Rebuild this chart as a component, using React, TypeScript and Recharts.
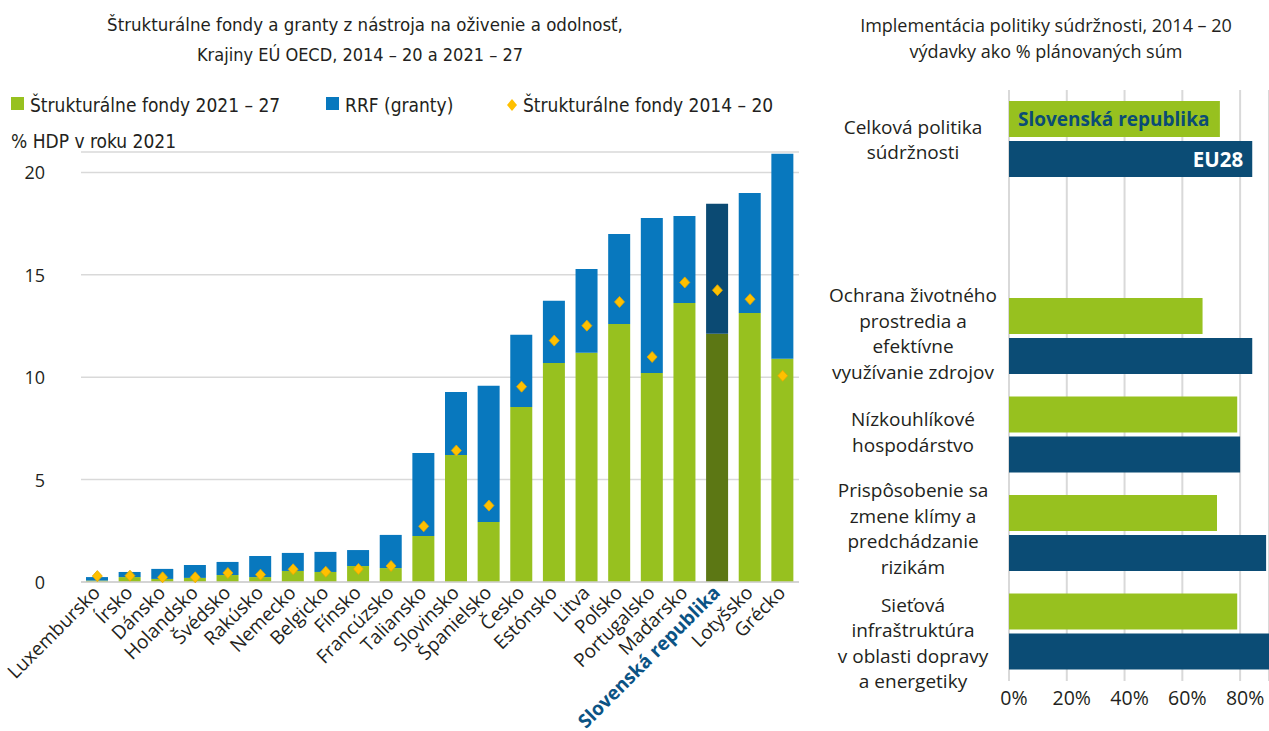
import React from 'react';
import {
  ComposedChart, BarChart, Bar, Line, XAxis, YAxis, CartesianGrid, Cell, LabelList,
} from 'recharts';

// ---------- Left chart data ----------
const countries = [
  'Luxembursko', 'Írsko', 'Dánsko', 'Holandsko', 'Švédsko', 'Rakúsko', 'Nemecko',
  'Belgicko', 'Fínsko', 'Francúzsko', 'Taliansko', 'Slovinsko', 'Španielsko', 'Česko',
  'Estónsko', 'Litva', 'Poľsko', 'Portugalsko', 'Maďarsko', 'Slovenská republika',
  'Lotyšsko', 'Grécko',
];
const structural2127 = [
  0.07, 0.24, 0.15, 0.2, 0.34, 0.24, 0.54, 0.49, 0.78, 0.68, 2.25, 6.2, 2.93, 8.55,
  10.7, 11.19, 12.6, 10.21, 13.63, 12.12, 13.14, 10.9,
];
const rrfGrants = [
  0.17, 0.25, 0.49, 0.63, 0.64, 1.03, 0.88, 0.98, 0.78, 1.62, 4.05, 3.08, 6.65, 3.52,
  3.03, 4.1, 4.4, 7.57, 4.25, 6.35, 5.86, 10.01,
];
const structural1420 = [
  0.29, 0.31, 0.23, 0.23, 0.44, 0.36, 0.62, 0.5, 0.64, 0.78, 2.72, 6.42, 3.73, 9.54,
  11.79, 12.52, 13.68, 10.99, 14.63, 14.25, 13.81, 10.07,
];
const leftTicks = [0, 5, 10, 15, 20];
const highlight = 'Slovenská republika';

// ---------- Right chart data ----------
const policyKeys = ['celkova', 'blank', 'ochrana', 'nizko', 'prisp', 'siet'];
const policyLabels: string[][] = [
  ['Celková politika', 'súdržnosti'],
  [],
  ['Ochrana životného', 'prostredia a', 'efektívne', 'využívanie zdrojov'],
  ['Nízkouhlíkové', 'hospodárstvo'],
  ['Prispôsobenie sa', 'zmene klímy a', 'predchádzanie', 'rizikám'],
  ['Sieťová', 'infraštruktúra', 'v oblasti dopravy', 'a energetiky'],
];
const skSpending = [73, null, 67, 79, 72, 79];
const eu28Spending = [84.2, null, 84.2, 80, 89, 90];
const rightTicks = [0, 20, 40, 60, 80];

const leftData = countries.map((name, i) => ({
  name,
  green: structural2127[i],
  rrf: rrfGrants[i],
  old: structural1420[i],
}));
const rightData = policyKeys.map((key, i) => ({
  key,
  sk: skSpending[i],
  eu: eu28Spending[i],
}));

const GREEN = '#97C11F';
const BLUE = '#0878BE';
const DARK_GREEN = '#5C7714';
const DARK_BLUE = '#0B4A73';
const NAVY = '#0B4C75';
const GOLD = '#FFC000';
const GRID = '#D9D9D9';
const TEXT = '#231F20';

const SANS = "'Open Sans', 'Noto Sans', sans-serif";
const COND = "'Liberation Sans Narrow', 'DejaVu Sans Condensed', 'Roboto Condensed', sans-serif";

// small vertical nudges of the multi-line category labels (style only)
const labelNudge: Record<string, number> = { celkova: 0, ochrana: -3, nizko: -3, prisp: -5, siet: 11 };

const Diamond = (props: any) => {
  const { cx, cy } = props;
  if (cx == null || cy == null) return null;
  return (
    <polygon
      points={`${cx},${cy - 5.5} ${cx + 5},${cy} ${cx},${cy + 5.5} ${cx - 5},${cy}`}
      fill={GOLD}
      stroke="#E3A800"
      strokeWidth={0.8}
    />
  );
};

const XTick = (props: any) => {
  const { x, y, payload } = props;
  const isSk = payload.value === highlight;
  return (
    <g transform={`translate(${x + 4},${y + 12})`}>
      <text
        textAnchor="end"
        transform="rotate(-45)"
        fontSize={19}
        fontFamily={SANS}
        fontWeight={isSk ? 700 : 400}
        fill={isSk ? '#0B5384' : TEXT}
      >
        {payload.value}
      </text>
    </g>
  );
};

const YTickLeft = (props: any) => {
  const { x, y, payload } = props;
  return (
    <text x={x} y={y} textAnchor="end" dominantBaseline="central" fontSize={18} fontFamily={SANS} fill={TEXT}>
      {payload.value}
    </text>
  );
};

const PolicyTick = (props: any) => {
  const { y, payload } = props;
  const lines = policyLabels[policyKeys.indexOf(payload.value)] || [];
  const lh = 25.5;
  const start = y + (labelNudge[payload.value] || 0) - ((lines.length - 1) * lh) / 2;
  return (
    <g>
      {lines.map((l, i) => (
        <text
          key={i}
          x={103}
          y={start + i * lh}
          textAnchor="middle"
          dominantBaseline="central"
          fontSize={19}
          fontFamily={SANS}
          fill={TEXT}
        >
          {l}
        </text>
      ))}
    </g>
  );
};

const PctTick = (props: any) => {
  const { x, y, payload } = props;
  return (
    <text x={x + 5} y={y} textAnchor="middle" dominantBaseline="central" fontSize={19.5} fontFamily={SANS} fill={TEXT}>
      {`${payload.value}%`}
    </text>
  );
};

const SkLabel = (props: any) => {
  const { x, y, height, index } = props;
  if (index !== 0) return null;
  return (
    <text x={x + 9} y={y + height / 2} dominantBaseline="central" fontSize={19} fontWeight={700} fontFamily={SANS} fill={NAVY}>
      Slovenská republika
    </text>
  );
};

const EuLabel = (props: any) => {
  const { x, y, width, height, index } = props;
  if (index !== 0) return null;
  return (
    <text x={x + width - 9} y={y + height / 2} textAnchor="end" dominantBaseline="central" fontSize={20.5} fontWeight={700} fontFamily={SANS} fill="#FFFFFF">
      EU28
    </text>
  );
};

const abs = (s: React.CSSProperties): React.CSSProperties => ({ position: 'absolute', whiteSpace: 'nowrap', ...s });

export default function App() {
  return (
    <div style={{ position: 'absolute', left: 0, top: 0, width: 1269, height: 731, background: '#fff', overflow: 'hidden', color: TEXT }}>
      {/* Left titles */}
      <div style={abs({ left: 0, top: 10, width: 730, textAlign: 'center', fontFamily: COND, fontSize: 18.5, lineHeight: '30px' })}>
        Štrukturálne fondy a granty z nástroja na oživenie a odolnosť,
      </div>
      <div style={abs({ left: 0, top: 40, width: 720, textAlign: 'center', fontFamily: COND, fontSize: 18, lineHeight: '30px' })}>
        Krajiny EÚ OECD, 2014 – 20 a 2021 – 27
      </div>
      {/* Legend */}
      <div style={abs({ left: 11, top: 97, width: 13, height: 13, background: GREEN })} />
      <div style={abs({ left: 30, top: 93, fontFamily: COND, fontSize: 19, lineHeight: '24px' })}>Štrukturálne fondy 2021 – 27</div>
      <div style={abs({ left: 326, top: 97, width: 13, height: 13, background: BLUE })} />
      <div style={abs({ left: 345, top: 93, fontFamily: COND, fontSize: 19, lineHeight: '24px' })}>RRF (granty)</div>
      <svg style={abs({ left: 506, top: 98 })} width={12} height={14}>
        <polygon points="6,1 11,7 6,13 1,7" fill={GOLD} />
      </svg>
      <div style={abs({ left: 523, top: 93, fontFamily: COND, fontSize: 19, lineHeight: '24px' })}>Štrukturálne fondy 2014 – 20</div>
      <div style={abs({ left: 11, top: 129, fontFamily: COND, fontSize: 19, lineHeight: '24px' })}>% HDP v roku 2021</div>

      {/* Left chart */}
      <div style={abs({ left: 0, top: 0 })}>
        <ComposedChart width={810} height={731} data={leftData} margin={{ top: 152, right: 11, bottom: 0, left: 0 }}>
          <CartesianGrid vertical={false} stroke={GRID} strokeWidth={1.5} />
          <XAxis
            dataKey="name"
            interval={0}
            tickLine={false}
            tickSize={0}
            tickMargin={0}
            height={149}
            axisLine={{ stroke: '#CFCFCF', strokeWidth: 1.5 }}
            tick={<XTick />}
          />
          <YAxis
            width={81}
            domain={[0, 21]}
            ticks={leftTicks}
            axisLine={false}
            tickLine={false}
            tickSize={0}
            tickMargin={36}
            tick={<YTickLeft />}
          />
          <Bar dataKey="green" stackId="a" barSize={22} isAnimationActive={false}>
            {leftData.map((d) => (
              <Cell key={d.name} fill={d.name === highlight ? DARK_GREEN : GREEN} />
            ))}
          </Bar>
          <Bar dataKey="rrf" stackId="a" barSize={22} isAnimationActive={false}>
            {leftData.map((d) => (
              <Cell key={d.name} fill={d.name === highlight ? DARK_BLUE : BLUE} />
            ))}
          </Bar>
          <Line dataKey="old" stroke="none" dot={<Diamond />} activeDot={false} isAnimationActive={false} />
        </ComposedChart>
      </div>

      {/* Right titles */}
      <div style={abs({ left: 846, top: 12, width: 400, textAlign: 'center', fontFamily: SANS, fontSize: 18, lineHeight: '26px' })}>
        Implementácia politiky súdržnosti, 2014 – 20
      </div>
      <div style={abs({ left: 846, top: 38, width: 400, textAlign: 'center', fontFamily: SANS, fontSize: 18, lineHeight: '26px' })}>
        výdavky ako % plánovaných súm
      </div>

      {/* Right chart */}
      <div style={abs({ left: 810, top: 0 })}>
        <BarChart
          width={459}
          height={731}
          data={rightData}
          layout="vertical"
          margin={{ top: 90, right: 0, bottom: 20, left: 0 }}
          barGap={4}
        >
          <CartesianGrid horizontal={false} stroke={GRID} strokeWidth={2} />
          <XAxis
            type="number"
            domain={[0, 90]}
            ticks={rightTicks}
            axisLine={false}
            tickLine={false}
            tickSize={0}
            tickMargin={16}
            height={30}
            tick={<PctTick />}
          />
          <YAxis
            type="category"
            dataKey="key"
            width={199}
            axisLine={false}
            tickLine={false}
            interval={0}
            tick={<PolicyTick />}
          />
          <Bar dataKey="sk" fill={GREEN} barSize={36} isAnimationActive={false}>
            <LabelList dataKey="sk" content={<SkLabel />} />
          </Bar>
          <Bar dataKey="eu" fill={NAVY} barSize={36} isAnimationActive={false}>
            <LabelList dataKey="eu" content={<EuLabel />} />
          </Bar>
        </BarChart>
      </div>
    </div>
  );
}
